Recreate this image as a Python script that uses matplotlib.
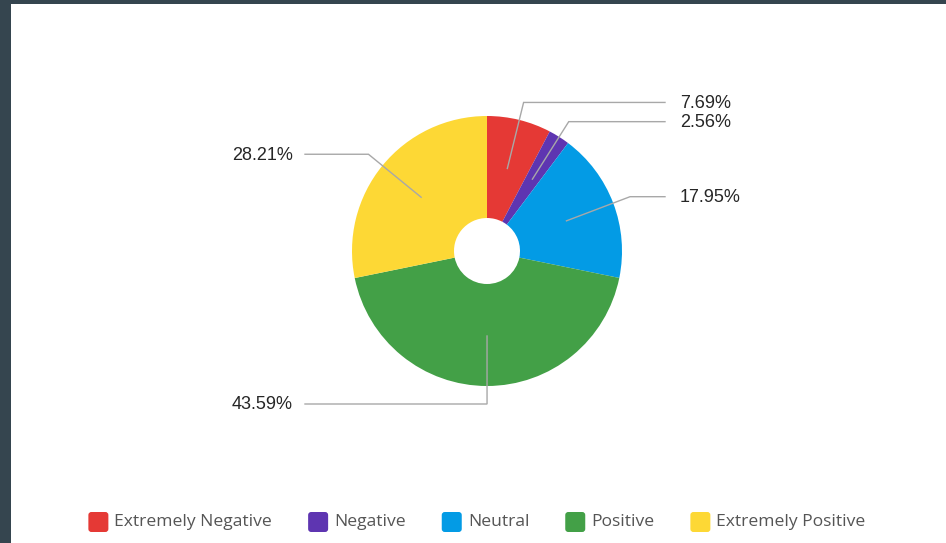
import matplotlib
matplotlib.use("Agg")
import matplotlib.pyplot as plt
from matplotlib.patches import Rectangle, FancyBboxPatch
import numpy as np

categories = ["Extremely Negative", "Negative", "Neutral", "Positive", "Extremely Positive"]
shares = [7.69, 2.56, 17.95, 43.59, 28.21]
colors = ["#e53935", "#5e35b1", "#039be5", "#43a047", "#fdd835"]

W, H = 946, 543
fig = plt.figure(figsize=(W / 100, H / 100), dpi=100)
fig.patch.set_facecolor("#35454f")
ax = fig.add_axes([0, 0, 1, 1])
ax.set_xlim(0, W)
ax.set_ylim(0, H)
ax.axis("off")

# white card
ax.add_patch(Rectangle((11, 0), W - 11, H - 4, facecolor="white", edgecolor="none", zorder=0))

cx, cy = 487, H - 251
R, r_hole = 135, 33
wedges, _ = ax.pie(shares, colors=colors, startangle=90, counterclock=False,
                   center=(cx, cy), radius=R, frame=True,
                   wedgeprops=dict(width=R - r_hole, linewidth=0))
ax.set_xlim(0, W)
ax.set_ylim(0, H)
ax.set_aspect("equal")
ax.axis("off")

# leader lines and percentage labels
r_in, r_elbow = 85, 153
for w, val in zip(wedges, shares):
    mid = np.deg2rad((w.theta1 + w.theta2) / 2)
    x0, y0 = cx + r_in * np.cos(mid), cy + r_in * np.sin(mid)
    x1, y1 = cx + r_elbow * np.cos(mid), cy + r_elbow * np.sin(mid)
    right = np.cos(mid) > 0.01
    x2 = 665 if right else 305
    ax.plot([x0, x1, x2], [y0, y1, y1], color="#a8a8a8", lw=1, zorder=5,
            solid_joinstyle="miter")
    ax.text(x2 + 15 if right else x2 - 12, y1 - 1, f"{val:.2f}%",
            ha="left" if right else "right", va="center",
            fontsize=13, color="#262626", family="Liberation Sans")

# legend row
fig.canvas.draw()
renderer = fig.canvas.get_renderer()
box, pad, gap = 20, 6, 36
texts = []
for name in categories:
    t = ax.text(0, 0, name, fontsize=12.6, color="#555555", family="Open Sans",
                ha="left", va="center")
    texts.append(t)
widths = [t.get_window_extent(renderer).width for t in texts]
total = sum(box + pad + w for w in widths) + gap * (len(categories) - 1)
x = 477 - total / 2
ly = H - 522
for t, w, c in zip(texts, widths, colors):
    ax.add_patch(FancyBboxPatch((x + 3, ly - box / 2 + 3), box - 6, box - 6,
                                boxstyle="round,pad=3", facecolor=c,
                                edgecolor="none"))
    t.set_position((x + box + pad, ly))
    x += box + pad + w + gap

fig.savefig("out.png", dpi=100, facecolor=fig.get_facecolor())
